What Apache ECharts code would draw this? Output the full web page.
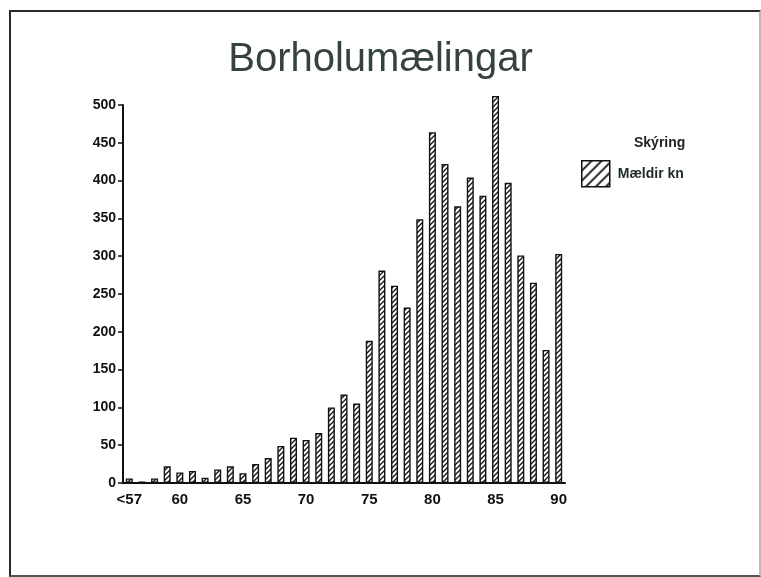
<!DOCTYPE html>
<html>
<head>
<meta charset="utf-8">
<title>Borholumælingar</title>
<script src="https://cdn.jsdelivr.net/npm/echarts@6/dist/echarts.min.js"></script>
<style>
	html, body {
		margin: 0;
		padding: 0;
		background: #fff;
	}
	#frame {
		position: absolute;
		left: 9px;
		top: 10px;
		width: 748px;
		height: 563px;
		border: 2px solid #2a2a2a;
		border-right-color: #bbb;
		border-bottom-color: #555;
	}
	#chart {
		position: absolute;
		left: 0;
		top: 0;
		width: 761px;
		height: 577px;
	}
</style>
</head>
<body>
<div id="frame"></div>
<div id="chart"></div>
<script>
// gildi lesin af myndinni
var categories = ['<57', '57', '58', '59', '60', '61', '62', '63', '64', '65',
	'66', '67', '68', '69', '70', '71', '72', '73', '74', '75',
	'76', '77', '78', '79', '80', '81', '82', '83', '84', '85',
	'86', '87', '88', '89', '90'];
var counts = [6, 2, 6, 22, 14, 16, 7, 18, 22, 13,
	25, 33, 49, 60, 57, 66, 100, 117, 105, 188,
	281, 261, 232, 349, 464, 422, 366, 404, 380, 512,
	397, 301, 265, 176, 303];
var yTicks = [0, 50, 100, 150, 200, 250, 300, 350, 400, 450, 500];
var seriesName = 'Mældir kn';

function hatch(size, width){
	var c = document.createElement('canvas');
	c.width = size;
	c.height = size;
	var ctx = c.getContext('2d');
	ctx.fillStyle = '#fff';
	ctx.fillRect(0, 0, size, size);
	ctx.strokeStyle = '#111';
	ctx.lineWidth = width;
	ctx.beginPath();
	ctx.moveTo(-1, size + 1);
	ctx.lineTo(size + 1, -1);
	ctx.moveTo(-2, 2);
	ctx.lineTo(2, -2);
	ctx.moveTo(size - 2, size + 2);
	ctx.lineTo(size + 2, size - 2);
	ctx.stroke();
	return c;
}

var labelFont = 'Liberation Sans, Arial, sans-serif';
var myChart = echarts.init(document.getElementById('chart'));
var option = {
	animation: false,
	backgroundColor: 'transparent',
	title: [
		{
			text: 'Borholumælingar',
			left: 'center',
			top: 35,
			textStyle: {
				fontFamily: labelFont,
				fontSize: 40,
				fontWeight: 'normal',
				color: '#34433e'
			}
		},
		{
			text: 'Skýring',
			left: 629,
			top: 131,
			textStyle: {
				fontFamily: labelFont,
				fontSize: 14,
				fontWeight: 'bold',
				color: '#222'
			}
		}
	],
	legend: {
		left: 581,
		top: 160,
		padding: 0,
		itemWidth: 28,
		itemHeight: 26,
		itemGap: 6,
		orient: 'vertical',
		data: [
			{
				name: seriesName,
				icon: 'rect',
				itemStyle: {
					color: {image: hatch(10, 1.8), repeat: 'repeat'},
					borderColor: '#111',
					borderWidth: 1.5
				}
			}
		],
		textStyle: {
			fontFamily: labelFont,
			fontSize: 14,
			fontWeight: 'bold',
			color: '#1c2a24',
			padding: [0, 0, 0, 3]
		}
	},
	grid: {
		left: 123,
		right: 196,
		top: 105,
		bottom: 94
	},
	xAxis: {
		type: 'category',
		data: categories,
		boundaryGap: true,
		axisLine: {
			lineStyle: {color: '#111', width: 2}
		},
		axisTick: {
			interval: 0,
			alignWithLabel: true,
			length: 6,
			lineStyle: {color: '#111', width: 1.5}
		},
		axisLabel: {
			interval: 0,
			margin: 9,
			fontFamily: labelFont,
			fontSize: 15,
			fontWeight: 'bold',
			color: '#111',
			formatter: function (value) {
				if (value.charAt(0) === '<' || Number(value) % 5 === 0) {
					return value;
				}
				return '';
			}
		},
		splitLine: {show: false}
	},
	yAxis: {
		type: 'value',
		min: yTicks[0],
		max: yTicks[yTicks.length - 1],
		interval: yTicks[1] - yTicks[0],
		axisLine: {
			show: true,
			lineStyle: {color: '#111', width: 2}
		},
		axisTick: {
			show: true,
			length: 5,
			lineStyle: {color: '#111', width: 1.5}
		},
		axisLabel: {
			margin: 7,
			fontFamily: labelFont,
			fontSize: 14,
			fontWeight: 'bold',
			color: '#111'
		},
		splitLine: {show: false}
	},
	series: [
		{
			name: seriesName,
			type: 'bar',
			data: counts,
			barWidth: 7,
			clip: false,
			itemStyle: {
				color: {image: hatch(5, 1.3), repeat: 'repeat'},
				borderColor: '#111',
				borderWidth: 1.4
			}
		}
	]
};
myChart.setOption(option);
window.addEventListener('resize', function () {
	myChart.resize();
});
</script>
</body>
</html>
